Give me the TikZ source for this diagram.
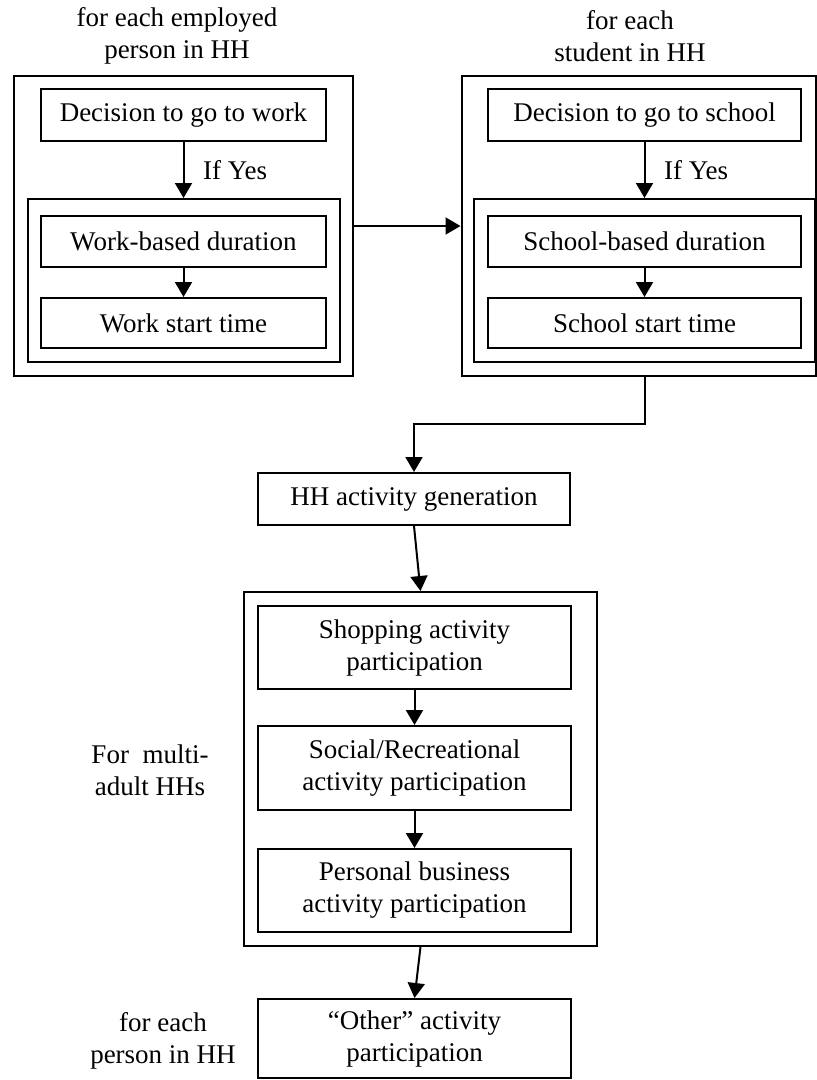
\documentclass[tikz,border=0pt]{standalone}
\usepackage{fontspec}
\setmainfont{Liberation Serif}
\usetikzlibrary{arrows.meta}
\begin{document}
\begin{tikzpicture}[x=1pt,y=-1pt,
  font=\fontsize{27}{32}\selectfont,
  box/.style={draw, line width=2pt, inner sep=0pt, align=center},
  lbl/.style={inner sep=0pt, align=center},
  arr/.style={-{Triangle[width=17pt,length=15pt]}, line width=2pt},
  ln/.style={line width=2pt}]
\useasboundingbox (0,0) rectangle (817,1080);
% outer containers
\node[box, minimum width=339pt, minimum height=300pt] (outer1) at (183.5,226) {};
\node[box, minimum width=354pt, minimum height=300pt] (outer2) at (638.5,226) {};
\node[box, minimum width=312pt, minimum height=163pt] (inner1) at (184,280.5) {};
\node[box, minimum width=341pt, minimum height=163pt] (inner2) at (644.5,280.5) {};
\node[box, minimum width=353pt, minimum height=354pt] (outer3) at (420.5,769) {};
% left column
\node[box, minimum width=285pt, minimum height=52pt] (dec1) at (183.5,115) {Decision to go to work};
\node[box, minimum width=285pt, minimum height=51pt] (wbd) at (183.5,241.5) {Work-based duration};
\node[box, minimum width=285pt, minimum height=50pt] (wst) at (183.5,323) {Work start time};
% right column
\node[box, minimum width=313pt, minimum height=52pt] (dec2) at (644.5,115) {Decision to go to school};
\node[box, minimum width=313pt, minimum height=51pt] (sbd) at (644.5,241.5) {School-based duration};
\node[box, minimum width=313pt, minimum height=50pt] (sst) at (644.5,323) {School start time};
% middle column
\node[box, minimum width=312pt, minimum height=52pt] (hh) at (414,499) {HH activity generation};
\node[box, minimum width=313pt, minimum height=83pt] (shop) at (414.5,647.5) {Shopping activity\\participation};
\node[box, minimum width=313pt, minimum height=84pt] (soc) at (414.5,768) {Social/Recreational\\activity participation};
\node[box, minimum width=313pt, minimum height=83pt] (pers) at (414.5,890.5) {Personal business\\activity participation};
\node[box, minimum width=313pt, minimum height=79pt] (other) at (414.5,1038.5) {``Other'' activity\\participation};
% labels
\node[lbl] (t1) at (177,36) {for each employed\\person in HH};
\node[lbl] (t2) at (630,36) {for each\\student in HH};
\node[lbl, anchor=west] (y1) at (203,170) {If Yes};
\node[lbl, anchor=west] (y2) at (664,170) {If Yes};
\node[lbl] (m1) at (150,770) {For\ \ multi-\\adult HHs};
\node[lbl] (p1) at (163,1041) {for each\\person in HH};
% connectors
\draw[arr] (dec1.south) -- (dec1.south |- inner1.north);
\draw[arr] (wbd) -- (wst);
\draw[arr] (dec2.south) -- (dec2.south |- inner2.north);
\draw[arr] (sbd) -- (sst);
\draw[arr] (outer1.east) -- (outer2.west);
\coordinate (j) at (644.5,424);
\draw[arr] (dec2.south |- outer2.south) -- (j) -| (hh.north);
\draw[arr] (hh.south) -- (outer3.north);
\draw[arr] (shop) -- (soc);
\draw[arr] (soc) -- (pers);
\draw[arr] (outer3.south) -- (other.north);
\end{tikzpicture}
\end{document}
